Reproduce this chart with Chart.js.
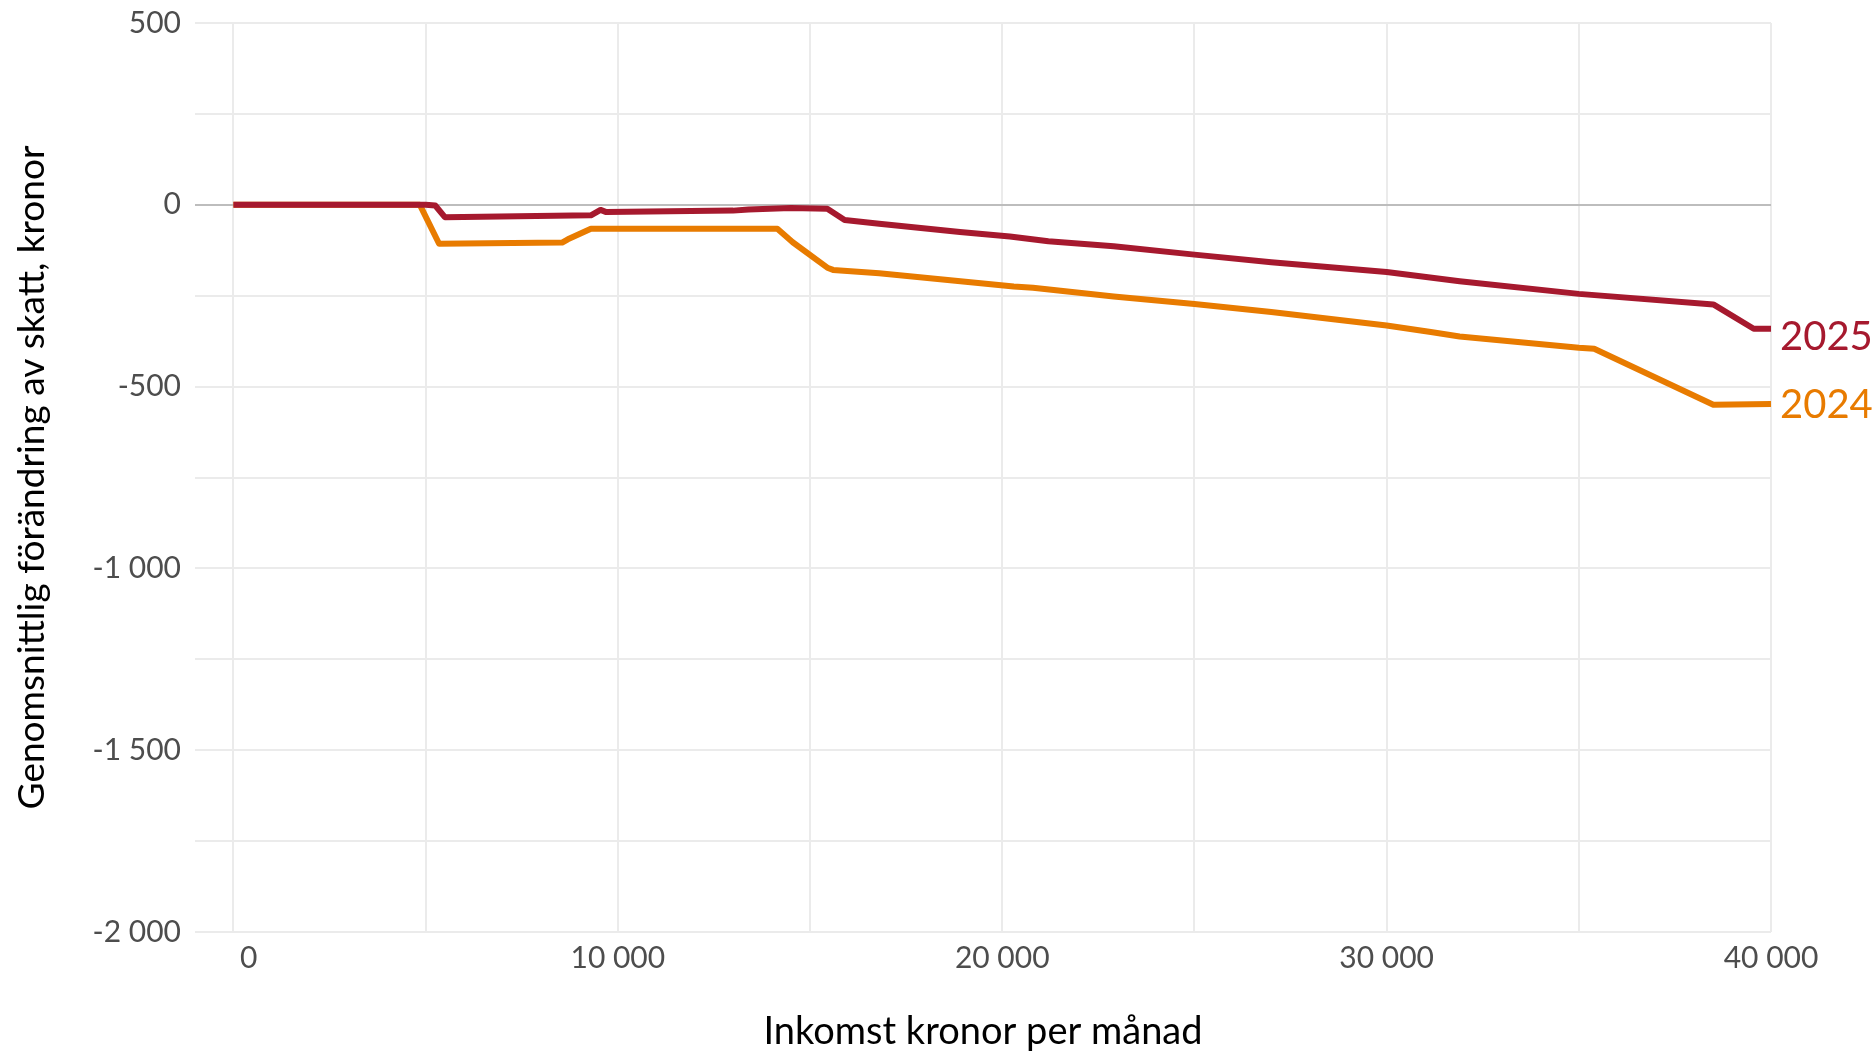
<!DOCTYPE html>
<html lang="sv">
<head>
<meta charset="utf-8">
<title>Genomsnittlig förändring av skatt</title>
<script src="https://cdn.jsdelivr.net/npm/chart.js@4.4.1/dist/chart.umd.min.js"></script>
<style>
  html, body { margin: 0; padding: 0; background: #fff; }
  #wrap { width: 1875px; height: 1051px; }
</style>
</head>
<body>
<div id="wrap"><canvas id="taxChart"></canvas></div>
<script>
// Inkomst (kronor per månad) och genomsnittlig förändring av skatt (kronor)
const income2025 = [0, 5000, 5250, 5500, 9300, 9550, 9700, 13000, 13400, 14500, 15450, 15900, 16800, 18900, 20200, 21200, 22900, 25000, 27000, 30000, 31900, 35000, 38500, 39550, 40000];
const change2025 = [0, 0, -2, -34, -29, -14, -20, -16, -13, -9, -11, -42, -52, -75, -87, -100, -114, -137, -158, -185, -210, -245, -274, -341, -341];

const income2024 = [0, 4850, 5350, 8550, 8700, 9300, 14150, 14550, 15450, 15600, 16800, 20300, 20800, 22900, 25000, 27000, 30000, 31150, 31900, 35000, 35400, 38500, 40000];
const change2024 = [0, 0, -107, -104, -95, -66, -66, -103, -173, -179, -188, -225, -228, -252, -273, -295, -332, -350, -362, -393, -396, -550, -548];

const xTicks = [0, 5000, 10000, 15000, 20000, 25000, 30000, 35000, 40000];
const yTicks = [500, 250, 0, -250, -500, -750, -1000, -1250, -1500, -1750, -2000];

const red = '#a6192e';
const orange = '#e87b00';
const fontName = 'Lato, "Open Sans", sans-serif';

function fmt(v) {
    const s = Math.abs(v).toString().replace(/\B(?=(\d{3})+(?!\d))/g, ' ');
    return (v < 0 ? '-' : '') + s;
}

function points(xs, ys) {
    return xs.map((x, i) => ({ x: x, y: ys[i] }));
}

// etiketter vid linjernas slut
const endLabels = {
    id: 'endLabels',
    afterDatasetsDraw(chart) {
        const { ctx, scales: { x, y } } = chart;
        ctx.save();
        ctx.font = '40px ' + fontName;
        ctx.textBaseline = 'middle';
        ctx.textAlign = 'left';
        chart.data.datasets.forEach(ds => {
            const last = ds.data[ds.data.length - 1];
            ctx.fillStyle = ds.borderColor;
            ctx.fillText(ds.label, x.getPixelForValue(last.x) + 9, y.getPixelForValue(last.y) + ds.labelShift);
        });
        ctx.restore();
    }
};

const ctx = document.getElementById('taxChart').getContext('2d');

new Chart(ctx, {
    type: 'line',
    data: {
        datasets: [
            {
                label: '2025',
                data: points(income2025, change2025),
                borderColor: red,
                borderWidth: 6,
                borderJoinStyle: 'round',
                pointRadius: 0,
                tension: 0,
                labelShift: 8
            },
            {
                label: '2024',
                data: points(income2024, change2024),
                borderColor: orange,
                borderWidth: 6,
                borderJoinStyle: 'round',
                pointRadius: 0,
                tension: 0,
                labelShift: 1
            }
        ]
    },
    options: {
        responsive: true,
        maintainAspectRatio: false,
        animation: false,
        layout: { padding: { left: 0, right: 104, top: 23, bottom: 0 } },
        scales: {
            x: {
                type: 'linear',
                min: -1000,
                max: 40000,
                afterBuildTicks: s => { s.ticks = xTicks.map(v => ({ value: v })); },
                afterFit: s => { s.height = 119; s.paddingLeft = 0; s.paddingRight = 0; },
                border: { display: false },
                grid: { color: '#ebebeb', lineWidth: 2, drawTicks: false },
                ticks: {
                    autoSkip: false,
                    maxRotation: 0,
                    padding: 8,
                    color: '#4d4d4d',
                    font: { family: fontName, size: 30 },
                    callback: v => v % 10000 === 0 ? (v === 0 ? '    0' : fmt(v)) : ''
                },
                title: {
                    display: true,
                    text: 'Inkomst kronor per månad',
                    color: '#000',
                    font: { family: fontName, size: 38, lineHeight: 1.0 },
                    padding: { top: 0, bottom: 0 }
                }
            },
            y: {
                min: -2000,
                max: 500,
                afterBuildTicks: s => { s.ticks = yTicks.map(v => ({ value: v })); },
                afterFit: s => { s.width = 195; s.paddingTop = 0; s.paddingBottom = 0; },
                border: { display: false },
                grid: {
                    color: c => c.tick && c.tick.value === 0 ? '#bdbdbd' : '#ebebeb',
                    lineWidth: 2,
                    drawTicks: false
                },
                ticks: {
                    autoSkip: false,
                    padding: 14,
                    color: '#4d4d4d',
                    font: { family: fontName, size: 30 },
                    callback: v => v % 500 === 0 ? fmt(v) : ''
                },
                title: {
                    display: true,
                    text: 'Genomsnittlig förändring av skatt, kronor',
                    color: '#000',
                    font: { family: fontName, size: 37 },
                    padding: { top: 10, bottom: 0 }
                }
            }
        },
        plugins: {
            legend: { display: false },
            tooltip: { enabled: false }
        }
    },
    plugins: [endLabels]
});
</script>
</body>
</html>
